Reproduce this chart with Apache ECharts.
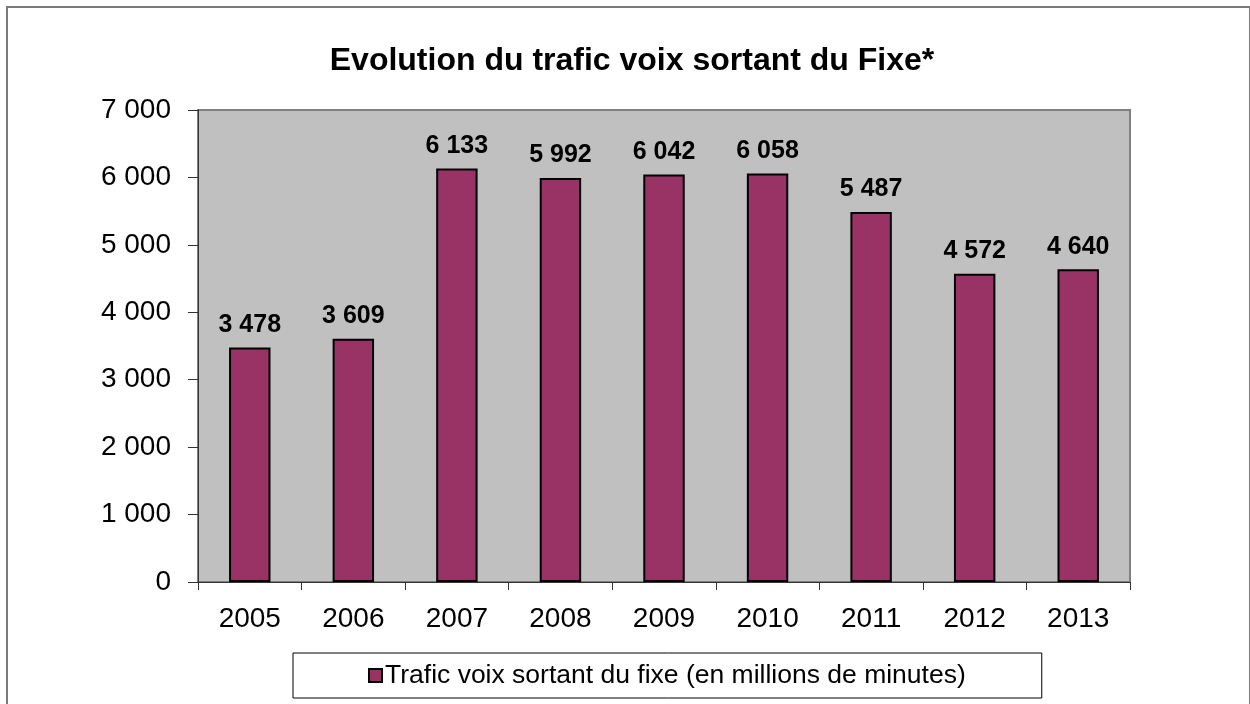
<!DOCTYPE html>
<html>
<head>
<meta charset="utf-8">
<script src="https://cdn.jsdelivr.net/npm/echarts@6/dist/echarts.min.js"></script>
<style>
  html, body { margin: 0; padding: 0; background: #fff; }
  #frame { position: absolute; left: 6px; top: 6px; width: 1241px; height: 720px; border: 2px solid #7a7a7a; }
  #chart { position: absolute; left: 0; top: 0; width: 1250px; height: 704px; }
</style>
</head>
<body>
<div id="frame"></div>
<div id="chart"></div>
<script>
const years = ['2005', '2006', '2007', '2008', '2009', '2010', '2011', '2012', '2013'];
const trafic = [3478, 3609, 6133, 5992, 6042, 6058, 5487, 4572, 4640];
const seriesName = 'Trafic voix sortant du fixe (en millions de minutes)';

// espace comme séparateur de milliers
function fmt(v) {
  return String(v).replace(/\B(?=(\d{3})+(?!\d))/g, ' ');
}

const font = 'Arial, "Liberation Sans", sans-serif';

const option = {
  animation: false,
  textStyle: { fontFamily: font },
  title: {
    text: 'Evolution du trafic voix sortant du Fixe*',
    left: 627,
    textAlign: 'center',
    top: 40,
    textStyle: { fontSize: 32, fontWeight: 'bold', color: '#000', fontFamily: font }
  },
  grid: {
    left: 198, right: 120, top: 110, bottom: 122,
    show: true, backgroundColor: '#c0c0c0', borderColor: '#808080', borderWidth: 2
  },
  legend: {
    left: 293, top: 653,
    padding: [9, 76, 9, 75],
    borderColor: '#000', borderWidth: 1,
    itemWidth: 13, itemHeight: 13, itemGap: 4,
    icon: 'rect',
    itemStyle: { borderColor: '#000', borderWidth: 2 },
    textStyle: { fontSize: 26.5, color: '#000', fontFamily: font, padding: [0, 0, 0, -2] },
    data: [seriesName]
  },
  xAxis: {
    type: 'category',
    data: years,
    axisLine: { lineStyle: { color: '#333', width: 1 } },
    axisTick: { show: true, length: 8, lineStyle: { color: '#333' } },
    axisLabel: { fontSize: 28, color: '#000', margin: 23 }
  },
  yAxis: {
    type: 'value',
    min: 0, max: 7000, interval: 1000,
    axisLine: { show: true, lineStyle: { color: '#333', width: 1 } },
    axisTick: { show: true, length: 10, lineStyle: { color: '#333' } },
    splitLine: { show: false },
    axisLabel: { fontSize: 28, color: '#000', margin: 27, formatter: fmt }
  },
  series: [{
    name: seriesName,
    type: 'bar',
    data: trafic,
    barWidth: '40%',
    itemStyle: { color: '#993366', borderColor: '#000', borderWidth: 2 },
    label: {
      show: true, position: 'top', distance: 10,
      fontSize: 25, fontWeight: 'bold', color: '#000',
      formatter: p => fmt(p.value)
    }
  }]
};

const chart = echarts.init(document.getElementById('chart'));
chart.setOption(option);
</script>
</body>
</html>
